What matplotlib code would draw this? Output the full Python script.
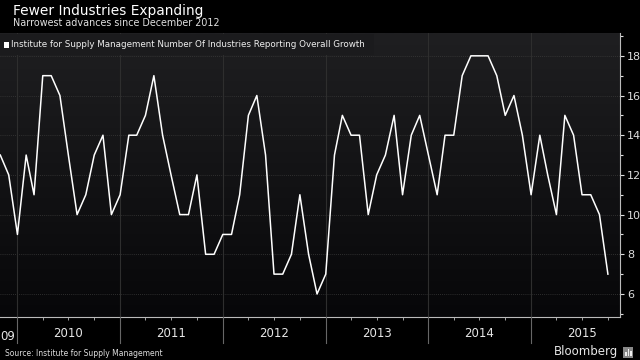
import numpy as np
import pandas as pd
import matplotlib
matplotlib.use('Agg')
import matplotlib.pyplot as plt
import matplotlib.dates as mdates
from matplotlib.patches import Rectangle

# --- Data: ISM number of industries reporting growth, monthly ---
months = pd.date_range("2009-11-01", "2015-10-01", freq="MS")
industries = [
    13, 12,                                          # 2009 Nov-Dec
    9, 13, 11, 17, 17, 16, 13, 10, 11, 13, 14, 10,   # 2010
    11, 14, 14, 15, 17, 14, 12, 10, 10, 12, 8, 8,    # 2011
    9, 9, 11, 15, 16, 13, 7, 7, 8, 11, 8, 6,         # 2012
    7, 13, 15, 14, 14, 10, 12, 13, 15, 11, 14, 15,   # 2013
    13, 11, 14, 14, 17, 18, 18, 18, 17, 15, 16, 14,  # 2014
    11, 14, 12, 10, 15, 14, 11, 11, 10, 7,           # 2015 Jan-Oct
]
years = [2010, 2011, 2012, 2013, 2014, 2015]
y_ticks = [6, 8, 10, 12, 14, 16, 18]

TITLE = "Fewer Industries Expanding"
SUBTITLE = "Narrowest advances since December 2012"
LEGEND = "Institute for Supply Management Number Of Industries Reporting Overall Growth"
SOURCE = "Source: Institute for Supply Management"

# --- Figure ---
fig = plt.figure(figsize=(6.4, 3.6), dpi=100, facecolor="black")
ax = fig.add_axes([0.0, 1 - 317 / 360, 620 / 640, (317 - 33) / 360])
ax.set_facecolor("black")

x0 = mdates.date2num(pd.Timestamp("2009-10-31"))
x1 = mdates.date2num(pd.Timestamp("2015-11-13"))
ax.set_xlim(x0, x1)
ax.set_ylim(4.84, 19.15)

# background gradient
grad = np.linspace(0, 1, 256).reshape(-1, 1)
ax.imshow(grad, extent=[x0, x1, 4.84, 19.15], aspect="auto", origin="lower",
          cmap=matplotlib.colors.LinearSegmentedColormap.from_list("bg", ["#070709", "#1f1f21"]),
          zorder=0)

# grid
for v in y_ticks:
    ax.axhline(v, color="#3a3a3a", lw=0.6, ls=(0, (1, 1.5)), zorder=1)
for yr in years:
    ax.axvline(mdates.date2num(pd.Timestamp(f"{yr}-01-01")), color="#2e2e2e", lw=0.8, zorder=1)

ax.plot(months, industries, color="white", lw=1.1, zorder=3)

# axes styling
for s in ["top", "left"]:
    ax.spines[s].set_visible(False)
for s in ["bottom", "right"]:
    ax.spines[s].set_color("#bbbbbb")
    ax.spines[s].set_linewidth(0.8)

ax.yaxis.tick_right()
ax.set_yticks(y_ticks)
ax.set_yticks(range(5, 20, 1), minor=True)
ax.tick_params(axis="y", which="both", colors="#dddddd", labelsize=8, length=3, width=0.8, pad=2)
ax.tick_params(axis="y", which="minor", length=2)

ax.xaxis.set_major_locator(mdates.MonthLocator(bymonth=[1, 4, 7, 10]))
ax.tick_params(axis="x", which="major", colors="#bbbbbb", length=2, width=0.6, labelbottom=False)

# year separators below the axis + year labels
for yr in years:
    xd = mdates.date2num(pd.Timestamp(f"{yr}-01-01"))
    ax.plot([xd, xd], [4.84, 3.55], color="#666666", lw=0.8, clip_on=False, zorder=4)
    xc = mdates.date2num(pd.Timestamp(f"{yr}-07-01"))
    ax.text(xc, 4.0, str(yr), color="#e6e6e6", fontsize=8.5, ha="center", va="center")
# partial 2009 label, truncated at the left edge as in the source
fig.text(0.5 / 640, 1 - 337 / 360, "09", color="#e6e6e6", fontsize=8.5, ha="left", va="center")

# legend strip
fig.patches.append(Rectangle((0, 1 - 55 / 360), 374 / 640, 21 / 360, transform=fig.transFigure,
                             facecolor="#1b1b1d", edgecolor="none", zorder=2))
fig.patches.append(Rectangle((4 / 640, 1 - 47.5 / 360), 5 / 640, 5.5 / 360, transform=fig.transFigure,
                             facecolor="white", edgecolor="none", zorder=3))
fig.text(11 / 640, 1 - 44.5 / 360, LEGEND, color="#eeeeee", fontsize=6.3, va="center", zorder=4)

# titles
fig.text(13 / 640, 1 - 11.5 / 360, TITLE, color="white", fontsize=9.9, va="center")
fig.text(13 / 640, 1 - 23.5 / 360, SUBTITLE, color="#e0e0e0", fontsize=6.9, va="center")

# footer
fig.text(5 / 640, 1 - 353 / 360, SOURCE, color="#dddddd", fontsize=5.5, va="center")
fig.text(618 / 640, 1 - 352 / 360, "Bloomberg", color="#e6e6e6", fontsize=8.5, ha="right", va="center")
fig.patches.append(Rectangle((623 / 640, 1 - 358 / 360), 10 / 640, 11 / 360, transform=fig.transFigure,
                             facecolor="#888888", edgecolor="none"))
for i, h in enumerate([4, 7, 5]):
    fig.patches.append(Rectangle(((625 + i * 2.5) / 640, 1 - 356 / 360), 1.5 / 640, h / 360,
                                 transform=fig.transFigure, facecolor="#eeeeee", edgecolor="none"))

fig.savefig("out.png", dpi=100, facecolor="black")
